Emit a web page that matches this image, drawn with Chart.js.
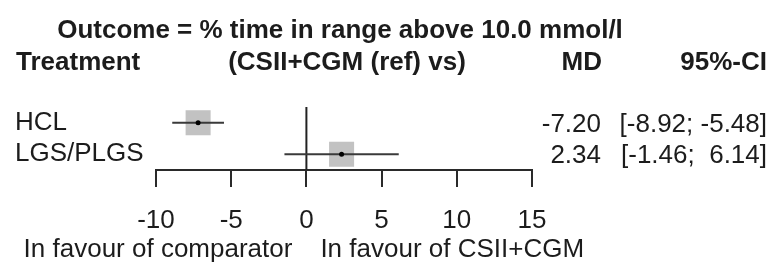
<!DOCTYPE html>
<html>
<head>
<meta charset="utf-8">
<script src="https://cdn.jsdelivr.net/npm/chart.js@4/dist/chart.umd.min.js"></script>
<style>
  html, body { margin: 0; padding: 0; background: #ffffff; }
  #wrap { width: 774px; height: 264px; }
</style>
</head>
<body>
<div id="wrap"><canvas id="c" width="774" height="264"></canvas></div>
<script>
// ---- data ----
const treatments = ["HCL", "LGS/PLGS"];
const rowPos = [2, 1];
const md = [-7.20, 2.34];
const lower = [-8.92, -1.46];
const upper = [-5.48, 6.14];
const mdText = ["-7.20", "2.34"];
const ciText = ["[-8.92; -5.48]", "[-1.46;  6.14]"];
const xTicks = [-10, -5, 0, 5, 10, 15];
const titleText = "Outcome = % time in range above 10.0 mmol/l";
const headers = ["Treatment", "(CSII+CGM (ref) vs)", "MD", "95%-CI"];
const bottomLabels = ["In favour of comparator", "In favour of CSII+CGM"];

const FONT = "'Liberation Sans', Arial, Helvetica, sans-serif";
const FS = 26;
const TXT = "#1c1c1c";

const ciSets = treatments.map((t, i) => ({
  type: 'scatter',
  label: 'CI ' + t,
  data: [{x: lower[i], y: rowPos[i]}, {x: upper[i], y: rowPos[i]}],
  showLine: true,
  borderColor: '#3a3a3a',
  borderWidth: 2,
  pointRadius: 0,
  order: 1
}));

const textPlugin = {
  id: 'forestText',
  afterDraw(chart) {
    const ctx = chart.ctx;
    const ys = chart.scales.y;
    ctx.save();
    ctx.fillStyle = TXT;
    ctx.textBaseline = 'alphabetic';
    ctx.font = 'bold ' + FS + 'px ' + FONT;
    ctx.textAlign = 'center';
    ctx.fillText(titleText, 340, 38);
    ctx.textAlign = 'left';
    ctx.fillText(headers[0], 16, 70);
    ctx.textAlign = 'center';
    ctx.fillText(headers[1], 347, 70);
    ctx.textAlign = 'right';
    ctx.fillText(headers[2], 602, 70);
    ctx.fillText(headers[3], 767, 70);
    ctx.font = FS + 'px ' + FONT;
    treatments.forEach((t, i) => {
      const y = ys.getPixelForValue(rowPos[i]) + 9;
      ctx.textAlign = 'right';
      ctx.fillText(mdText[i], 601, y);
      ctx.fillText(ciText[i], 767, y);
    });
    const x0 = chart.scales.x.getPixelForValue(0);
    ctx.textAlign = 'right';
    ctx.fillText(bottomLabels[0], x0 - 14, 257);
    ctx.textAlign = 'left';
    ctx.fillText(bottomLabels[1], x0 + 14, 257);
    ctx.restore();
  }
};

new Chart(document.getElementById('c'), {
  type: 'scatter',
  data: {
    datasets: [
      {
        label: 'MD point',
        data: treatments.map((t, i) => ({x: md[i], y: rowPos[i]})),
        pointStyle: 'circle',
        pointRadius: 2.5,
        backgroundColor: '#000000',
        borderWidth: 0,
        order: 0
      },
      ...ciSets,
      {
        type: 'scatter',
        label: 'zero',
        data: [{x: 0, y: 0.5}, {x: 0, y: 2.5}],
        showLine: true,
        borderColor: '#222222',
        borderWidth: 2,
        pointRadius: 0,
        order: 2
      },
      {
        label: 'weight',
        data: treatments.map((t, i) => ({x: md[i], y: rowPos[i]})),
        pointStyle: 'rect',
        pointRadius: 17.7,
        backgroundColor: '#c2c2c2',
        borderWidth: 0,
        order: 3
      }
    ]
  },
  options: {
    responsive: false,
    animation: false,
    devicePixelRatio: 1,
    layout: { padding: { top: 107, left: 15, right: 242, bottom: 0 } },
    plugins: { legend: { display: false }, tooltip: { enabled: false }, title: { display: false } },
    scales: {
      x: {
        type: 'linear',
        position: 'bottom',
        min: -10, max: 15,
        afterBuildTicks(scale) { scale.ticks = xTicks.map(v => ({value: v})); },
        afterFit(scale) { scale.height = 94; },
        border: { display: true, color: '#2a2a2a', width: 2 },
        grid: { drawOnChartArea: false, drawTicks: true, tickLength: 17, color: '#2a2a2a', lineWidth: 2 },
        ticks: { color: TXT, font: { family: FONT, size: FS }, padding: 18, maxRotation: 0, autoSkip: false }
      },
      y: {
        type: 'linear',
        position: 'left',
        min: 0.5, max: 2.5,
        afterBuildTicks(scale) { scale.ticks = rowPos.map(v => ({value: v})); },
        afterFit(scale) { scale.width = 141; },
        border: { display: false },
        grid: { display: false, drawTicks: false },
        ticks: {
          crossAlign: 'far',
          color: TXT,
          font: { family: FONT, size: FS },
          callback(v) { const i = rowPos.indexOf(v); return i >= 0 ? treatments[i] : ''; }
        }
      }
    }
  },
  plugins: [textPlugin]
});
</script>
</body>
</html>
